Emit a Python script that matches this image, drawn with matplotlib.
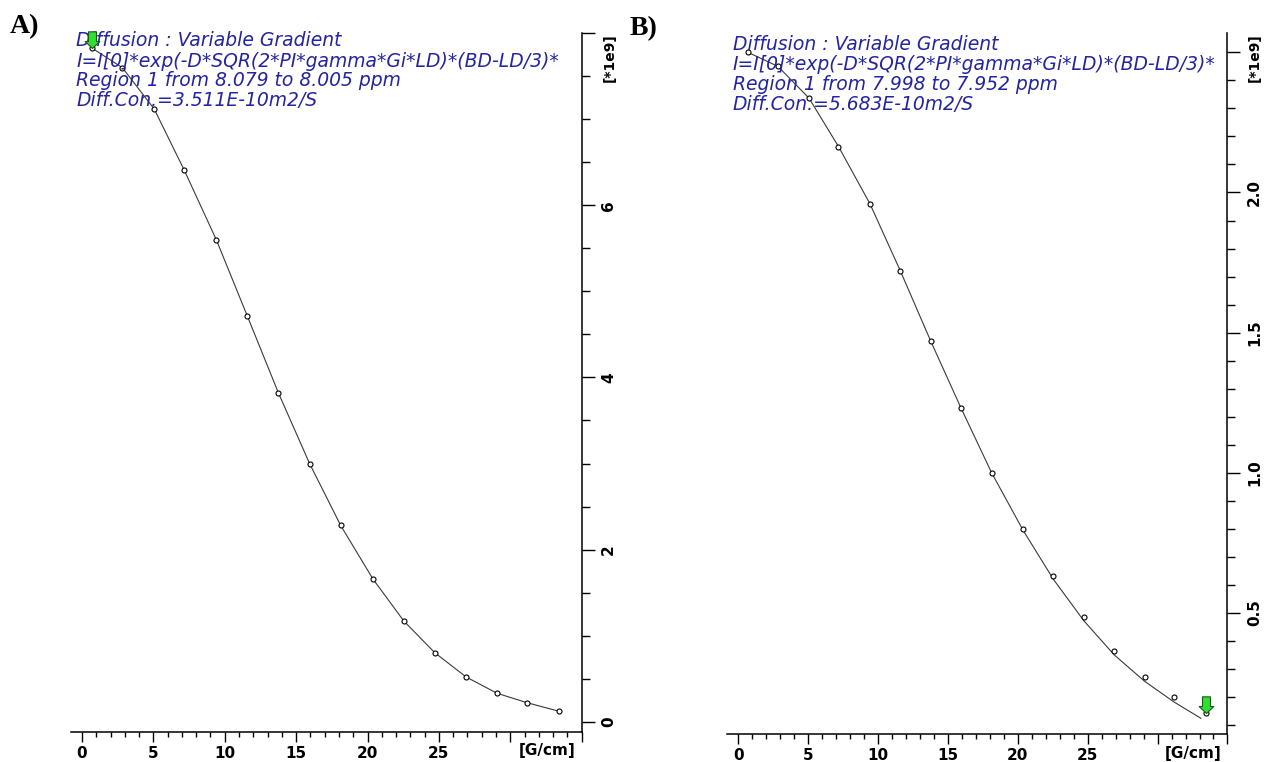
# Diffusion decay curves (variable gradient), two regions side by side
import matplotlib.pyplot as plt
from matplotlib.path import Path
from matplotlib.transforms import Bbox, TransformedBbox

# gradient strength [G/cm] of the measured points (same series for both regions)
gradient = [0.68, 2.83, 5.06, 7.16, 9.41, 11.59, 13.76, 15.94,
            18.12, 20.37, 22.54, 24.72, 26.90, 29.07, 31.18, 33.43]

# region A: 8.079 - 8.005 ppm, intensity [*1e9]
intensity_a = [7.83, 7.60, 7.12, 6.41, 5.60, 4.71, 3.82, 3.00,
               2.28, 1.66, 1.17, 0.80, 0.52, 0.33, 0.22, 0.12]
fit_g_a = gradient
fit_a = [7.83, 7.60, 7.12, 6.41, 5.60, 4.71, 3.82, 3.00,
         2.28, 1.66, 1.17, 0.80, 0.52, 0.33, 0.22, 0.12]

# region B: 7.998 - 7.952 ppm, intensity [*1e9]
intensity_b = [2.50, 2.45, 2.336, 2.164, 1.96, 1.72, 1.47, 1.23,
               1.00, 0.80, 0.63, 0.485, 0.363, 0.273, 0.199, 0.142]
fit_g_b = [0.68, 2.83, 5.06, 7.16, 9.41, 11.59, 13.76, 15.94,
           18.12, 20.37, 22.54, 24.72, 26.90, 29.07, 31.18, 33.10]
fit_b = [2.50, 2.45, 2.336, 2.164, 1.96, 1.72, 1.47, 1.23,
         1.00, 0.795, 0.62, 0.472, 0.350, 0.256, 0.182, 0.124]

x_major = [0, 5, 10, 15, 20, 25, 30, 35]
x_labels = ['0', '5', '10', '15', '20', '25', '', '']
y_major_a = [0, 2, 4, 6, 8]
y_labels_a = ['0', '2', '4', '6', '']
y_major_b = [0.5, 1.0, 1.5, 2.0, 2.5]
y_labels_b = ['0.5', '1.0', '1.5', '2.0', '']

info_a = ['Diffusion : Variable Gradient',
          'I=I[0]*exp(-D*SQR(2*PI*gamma*Gi*LD)*(BD-LD/3)*',
          'Region 1 from 8.079 to 8.005 ppm',
          'Diff.Con.=3.511E-10m2/S']
info_b = ['Diffusion : Variable Gradient',
          'I=I[0]*exp(-D*SQR(2*PI*gamma*Gi*LD)*(BD-LD/3)*',
          'Region 1 from 7.998 to 7.952 ppm',
          'Diff.Con.=5.683E-10m2/S']

TEXT_BLUE = '#2424a0'
ARROW_GREEN = '#2fe02f'

# block arrow pointing down, tip at the origin
arrow_marker = Path([(0, 0), (-0.44, 0.42), (-0.24, 0.42), (-0.24, 1.0),
                     (0.24, 1.0), (0.24, 0.42), (0.44, 0.42), (0, 0)],
                    [Path.MOVETO] + [Path.LINETO] * 6 + [Path.CLOSEPOLY])


def draw_panel(ax, fit_g, fit_v, g, v, ylim, y_major, y_labels, y_minor,
               info, info_y, arrow_idx):
    ax.plot(fit_g, fit_v, color='#3a3a3a', lw=0.8, zorder=2)
    ax.plot(g, v, ls='none', marker='o', ms=3.6, mfc='white',
            mec='black', mew=0.8, zorder=3)
    ax.plot(g[arrow_idx], v[arrow_idx], ls='none', marker=arrow_marker,
            ms=24, mfc=ARROW_GREEN, mec='#1a5a1a', mew=0.8, zorder=5,
            clip_on=False)

    ax.set_xlim(-0.8, 35)
    ax.set_ylim(*ylim)

    for side in ('top', 'left'):
        ax.spines[side].set_visible(False)
    for side in ('bottom', 'right'):
        ax.spines[side].set_linewidth(1.1)

    ax.yaxis.tick_right()
    ax.set_xticks(x_major, x_labels)
    ax.set_xticks(range(0, 35), minor=True)
    ax.set_yticks(y_major, y_labels)
    ax.set_yticks(y_minor, minor=True)
    ax.tick_params(axis='x', which='major', direction='out', length=7,
                   width=1, pad=3, labelsize=11)
    ax.tick_params(axis='x', which='minor', direction='out', length=3.5,
                   width=1)
    ax.tick_params(axis='y', which='major', direction='out', length=9,
                   width=1, pad=5, labelsize=11, labelrotation=90)
    ax.tick_params(axis='y', which='minor', direction='out', length=5.5,
                   width=1)
    for lab in ax.get_xticklabels() + ax.get_yticklabels():
        lab.set_fontweight('bold')
    for lab in ax.get_yticklabels():
        lab.set_va('center')

    ax.text(0.932, -0.027, '[G/cm]', transform=ax.transAxes,
            ha='center', va='center', fontsize=11, fontweight='bold')
    ax.text(1.054, 1.0, '[*1e9]', transform=ax.transAxes, rotation=90,
            ha='center', va='top', fontsize=10, fontweight='bold')

    # info block is cut off at the right spine only
    right_clip = TransformedBbox(Bbox([[-0.2, 0.0], [1.0, 1.2]]),
                                 ax.transAxes)
    for line, yy in zip(info, info_y):
        t = ax.text(0.011, yy, line, transform=ax.transAxes, ha='left',
                    va='center', fontsize=13.5, style='italic',
                    color=TEXT_BLUE, zorder=4)
        t.set_clip_box(right_clip)
        t.set_clip_on(True)


plt.rcParams['font.family'] = ['DejaVu Sans']

fig = plt.figure(figsize=(12.67, 7.62), dpi=100)
ax_a = fig.add_axes([0.0557, 0.0394, 0.4034, 0.9169])
ax_b = fig.add_axes([0.5740, 0.0364, 0.3948, 0.9199])

draw_panel(ax_a, fit_g_a, fit_a, gradient, intensity_a, (-0.12, 8.0),
           y_major_a, y_labels_a, [i * 0.5 for i in range(17)],
           info_a, [0.9894, 0.9594, 0.9322, 0.9036], 0)
draw_panel(ax_b, fit_g_b, fit_b, gradient, intensity_b, (0.067, 2.568),
           y_major_b, y_labels_b, [0.1 + i * 0.1 for i in range(25)],
           info_b, [0.9847, 0.9562, 0.9276, 0.8991], len(gradient) - 1)

fig.text(0.008, 0.965, 'A)', ha='left', va='center', fontsize=20,
         fontweight='bold', family='Liberation Serif')
fig.text(0.497, 0.963, 'B)', ha='left', va='center', fontsize=20,
         fontweight='bold', family='Liberation Serif')

fig.savefig('out.png', dpi=100)
